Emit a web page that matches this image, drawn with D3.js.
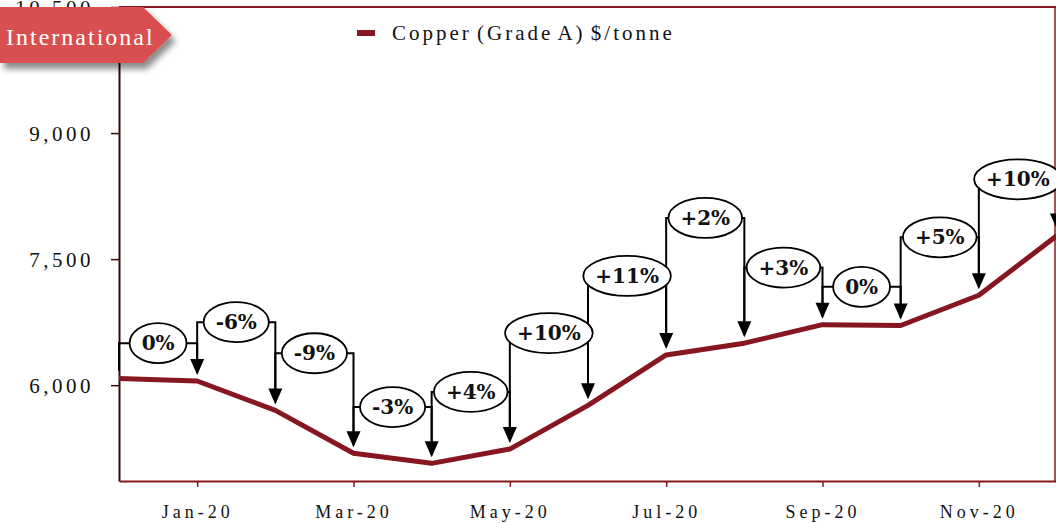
<!DOCTYPE html>
<html>
<head>
<meta charset="utf-8">
<script src="https://cdn.jsdelivr.net/npm/d3@7"></script>
<style>
  body { margin: 0; background: #fff; }
  svg { display: block; }
</style>
</head>
<body>
<svg id="chart" width="1056" height="523"></svg>
<script>
// monthly average
const months = ["Dec-19", "Jan-20", "Feb-20", "Mar-20", "Apr-20", "May-20", "Jun-20",
                "Jul-20", "Aug-20", "Sep-20", "Oct-20", "Nov-20", "Dec-20"];
const copper = [6080, 6050, 5700, 5190, 5070, 5240, 5760, 6360, 6500, 6720, 6710, 7070, 7780];
// month on month change, and the height ($/tonne) at which each bubble sits
const changeLabels = ["0%", "-6%", "-9%", "-3%", "+4%", "+10%", "+11%", "+2%", "+3%", "0%", "+5%", "+10%"];
const labelLevels = [6500, 6750, 6380, 5740, 5920, 6620, 7300, 7990, 7400, 7170, 7760, 8450];
const yTicks = [6000, 7500, 9000, 10500];
const xTickIdx = [1, 3, 5, 7, 9, 11];

const svg = d3.select("#chart");
const plotL = 119, plotR = 1057, plotT = 7, plotB = 481;
const red = "#861720";

const x = d3.scaleLinear().domain([0, months.length - 1]).range([plotL, plotR]);
const y = d3.scaleLinear().domain([4860, 10500]).range([plotB, plotT]);

// frame
svg.append("line").attr("x1", plotL).attr("x2", 1056).attr("y1", plotT).attr("y2", plotT)
    .attr("stroke", red).attr("stroke-width", 2);
svg.append("line").attr("x1", 1055).attr("x2", 1055).attr("y1", plotT).attr("y2", plotB)
    .attr("stroke", red).attr("stroke-width", 1.5);

// y axis
const yAxis = svg.append("g").attr("transform", "translate(" + plotL + ",0)")
    .call(d3.axisLeft(y).tickValues(yTicks).tickFormat(d3.format(","))
        .tickSize(8).tickSizeOuter(0).tickPadding(17));
yAxis.select(".domain").attr("stroke", "#2b0b0b").attr("stroke-width", 2);
yAxis.selectAll(".tick line").attr("stroke", "#2b0b0b").attr("stroke-width", 1.5);
yAxis.selectAll(".tick text").attr("font-family", "Liberation Serif").attr("font-size", 21)
    .attr("letter-spacing", 3.5).attr("fill", "#111").attr("dy", "0.35em");

// x axis
const xAxis = svg.append("g").attr("transform", "translate(0," + plotB + ")")
    .call(d3.axisBottom(x).tickValues(xTickIdx).tickFormat(i => months[i])
        .tickSize(6).tickSizeOuter(0).tickPadding(18));
xAxis.select(".domain").attr("stroke", red).attr("stroke-width", 2);
xAxis.selectAll(".tick line").attr("stroke", red).attr("stroke-width", 1.5);
xAxis.selectAll(".tick text").attr("font-family", "Liberation Serif").attr("font-size", 18)
    .attr("letter-spacing", 4).attr("fill", "#111");

// price line
svg.append("path").datum(copper)
    .attr("d", d3.line().x((d, i) => x(i)).y(d => y(d)))
    .attr("fill", "none").attr("stroke", red).attr("stroke-width", 5)
    .attr("stroke-linejoin", "round");

// change annotations: connectors and arrows first, bubbles on top
const notes = changeLabels.map((t, i) => ({
    text: t, a: i, b: i + 1, level: labelLevels[i]
}));
const ann = svg.append("g");
notes.forEach(n => {
    const xa = x(n.a), xb = x(n.b), ly = y(n.level);
    const ya = y(copper[n.a]), yb = y(copper[n.b]);
    ann.append("path")
        .attr("d", "M" + xa + "," + (ya - 8) + "V" + ly + "H" + xb + "V" + (yb - 20))
        .attr("fill", "none").attr("stroke", "#000").attr("stroke-width", 2);
    ann.append("path")
        .attr("d", "M" + (xb - 7) + "," + (yb - 22) + "L" + (xb + 7) + "," + (yb - 22) + "L" + xb + "," + (yb - 6) + "Z")
        .attr("fill", "#000");
});
notes.forEach(n => {
    const cx = (x(n.a) + x(n.b)) / 2, cy = y(n.level);
    const g = ann.append("g").attr("transform", "translate(" + cx + "," + cy + ")");
    const el = g.append("ellipse").attr("fill", "#fff").attr("stroke", "#000").attr("stroke-width", 1.8);
    const t = g.append("text").text(n.text)
        .attr("text-anchor", "middle").attr("dy", "0.36em")
        .attr("font-family", "DejaVu Serif").attr("font-weight", "bold").attr("font-size", 20)
        .attr("fill", "#111");
    const w = t.node().getComputedTextLength();
    el.attr("rx", w / 2 + 12).attr("ry", 20);
});

// legend
svg.append("rect").attr("x", 357).attr("y", 30).attr("width", 18).attr("height", 6).attr("fill", red);
svg.append("text").attr("x", 392).attr("y", 40).text("Copper (Grade A) $/tonne")
    .attr("font-family", "Liberation Serif").attr("font-size", 21).attr("letter-spacing", 3)
    .attr("word-spacing", -3).attr("fill", "#111");

// "International" tag
const defs = svg.append("defs");
const f = defs.append("filter").attr("id", "shadow").attr("x", "-10%").attr("y", "-20%")
    .attr("width", "130%").attr("height", "160%");
f.append("feDropShadow").attr("dx", 4).attr("dy", 6).attr("stdDeviation", 3)
    .attr("flood-color", "#000").attr("flood-opacity", 0.45);
svg.append("path").attr("d", "M0,7H143L172,35L143,63H0Z")
    .attr("fill", "#d95050").attr("filter", "url(#shadow)");
svg.append("text").attr("x", 6).attr("y", 45).text("International")
    .attr("font-family", "Liberation Serif").attr("font-size", 24).attr("letter-spacing", 2)
    .attr("fill", "#fff");
</script>
</body>
</html>
